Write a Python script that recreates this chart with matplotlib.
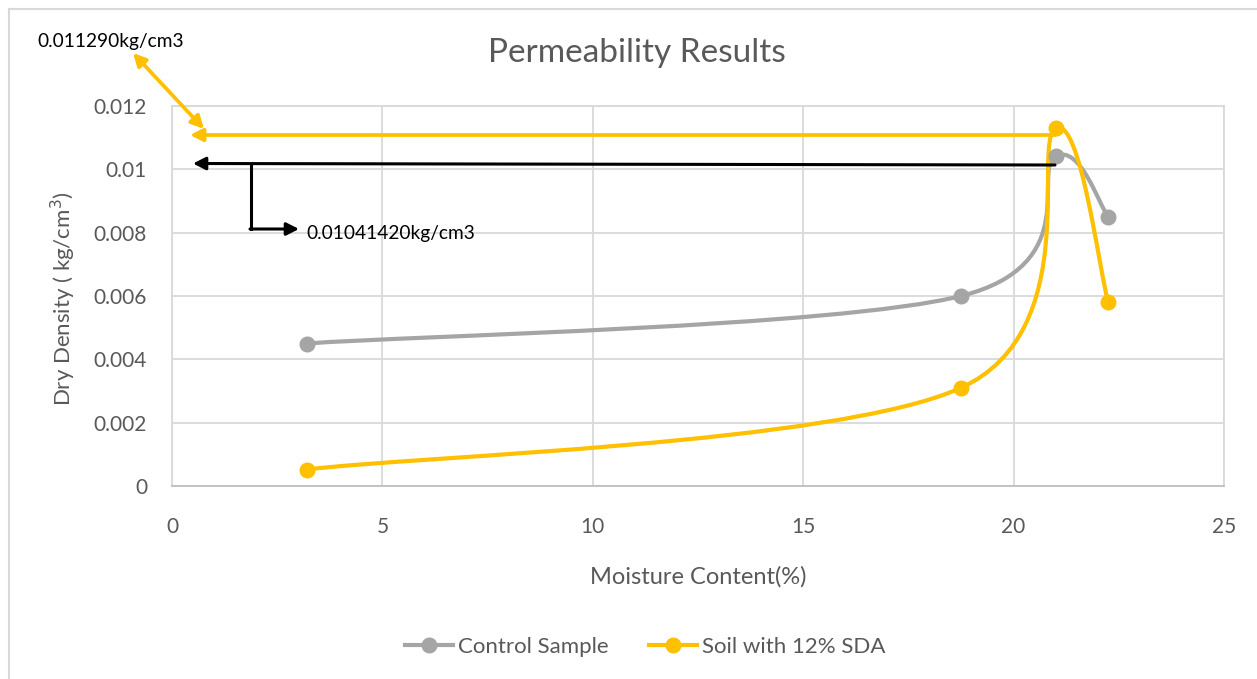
import numpy as np
import matplotlib.pyplot as plt
from matplotlib.path import Path
from matplotlib.patches import PathPatch
from matplotlib.lines import Line2D

plt.rcParams['font.family'] = ['Lato', 'DejaVu Sans']

# data
moisture = [3.2, 18.75, 21.0, 22.25]
control = [0.0045, 0.0060, 0.01041, 0.0085]
sda = [0.00052, 0.0031, 0.01129, 0.0058]
series_names = ['Control Sample', 'Soil with 12% SDA']
series_colors = ['#A5A5A5', '#FFC000']
x_ticks = [0, 5, 10, 15, 20, 25]
y_ticks = [0, 0.002, 0.004, 0.006, 0.008, 0.01, 0.012]
y_tick_labels = ['0', '0.002', '0.004', '0.006', '0.008', '0.01', '0.012']

TEXT = '#595959'
GRID = '#D9D9D9'


def smooth_path(xs, ys):
    # Excel-style smoothed line: cubic Bezier through the points
    pts = np.column_stack([xs, ys])
    n = len(pts)
    verts = [pts[0]]
    codes = [Path.MOVETO]
    for i in range(n - 1):
        p0 = pts[max(i - 1, 0)]
        p1 = pts[i]
        p2 = pts[i + 1]
        p3 = pts[min(i + 2, n - 1)]
        verts += [p1 + (p2 - p0) / 6, p2 - (p3 - p1) / 6, p2]
        codes += [Path.CURVE4] * 3
    return Path(verts, codes)


fig = plt.figure(figsize=(12.57, 6.79), dpi=100)
ax = fig.add_axes([172 / 1257, 1 - 486 / 679, 1052 / 1257, 380 / 679])

for ys, name, col in zip([control, sda], series_names, series_colors):
    ax.add_patch(PathPatch(smooth_path(moisture, ys), facecolor='none',
                           edgecolor=col, lw=3, zorder=3, capstyle='round'))
    ax.plot(moisture, ys, linestyle='none', marker='o', ms=10.5,
            color=col, zorder=4)

ax.set_xlim(0, 25)
ax.set_ylim(0, 0.012)
ax.set_xticks(x_ticks)
ax.set_yticks(y_ticks)
ax.set_yticklabels(y_tick_labels)
ax.grid(True, color=GRID, lw=1.3)
ax.set_axisbelow(True)
for s in ax.spines.values():
    s.set_color(GRID)
    s.set_linewidth(1.3)
ax.spines['bottom'].set_color('#BFBFBF')
ax.tick_params(length=0, labelsize=15, colors=TEXT)
ax.tick_params(axis='y', pad=18)
ax.tick_params(axis='x', pad=22)

fig.text(637 / 1257, 1 - 53 / 679, 'Permeability Results', ha='center',
         va='center', fontsize=24, color=TEXT)
fig.text(698 / 1257, 1 - 577 / 679, 'Moisture Content(%)', ha='center',
         va='center', fontsize=17, color=TEXT)
fig.text(63 / 1257, 1 - 299 / 679, 'Dry Density ( kg/cm$^3$)', ha='center',
         va='center', rotation=90, fontsize=16, color=TEXT)

# chart area border (left and top edges are inside the crop)
fig.add_artist(Line2D([8.5 / 1257, 8.5 / 1257], [0, 1 - 9 / 679],
                      transform=fig.transFigure, color=GRID, lw=1.5))
fig.add_artist(Line2D([8.5 / 1257, 1], [1 - 9 / 679, 1 - 9 / 679],
                      transform=fig.transFigure, color=GRID, lw=1.5))

# annotations drawn on the chart (figure pixel positions)
W, H = 1257, 679


def px(x, y):
    return (x / W, 1 - y / H)


head = '-|>,head_length=0.75,head_width=0.38'
orange = '#FFC000'
ax.annotate('', xy=px(190, 135), xytext=px(1055, 135), xycoords='figure fraction',
            textcoords='figure fraction',
            arrowprops=dict(arrowstyle=head, color=orange, lw=2.7,
                            shrinkA=0, shrinkB=0), annotation_clip=False, zorder=5)
ax.annotate('', xy=px(133, 53), xytext=px(204, 129), xycoords='figure fraction',
            textcoords='figure fraction',
            arrowprops=dict(arrowstyle='<|-|>,head_length=0.75,head_width=0.38',
                            color=orange, lw=2.7, shrinkA=0, shrinkB=0),
            annotation_clip=False, zorder=5)
ax.annotate('', xy=px(193, 163.5), xytext=px(1055, 165), xycoords='figure fraction',
            textcoords='figure fraction',
            arrowprops=dict(arrowstyle=head, color='black', lw=2.2,
                            shrinkA=0, shrinkB=0), annotation_clip=False, zorder=5)
fig.add_artist(Line2D([251 / W, 251 / W], [1 - 164 / H, 1 - 229 / H],
                      transform=fig.transFigure, color='black', lw=2.2))
ax.annotate('', xy=px(299, 229), xytext=px(250, 229), xycoords='figure fraction',
            textcoords='figure fraction',
            arrowprops=dict(arrowstyle=head, color='black', lw=2.2,
                            shrinkA=0, shrinkB=0), annotation_clip=False, zorder=5)
fig.text(37 / W, 1 - 41 / H, '0.011290kg/cm3', ha='left', va='center',
         fontsize=13.8, color='black')
fig.text(306 / W, 1 - 233 / H, '0.01041420kg/cm3', ha='left', va='center',
         fontsize=13.8, color='black')

handles = [Line2D([], [], color=c, lw=3, marker='o', ms=10.5) for c in series_colors]
fig.legend(handles, series_names, loc='center', bbox_to_anchor=(645 / W, 1 - 647 / H),
           ncol=2, frameon=False, fontsize=16, labelcolor=TEXT, handlelength=2.2,
           handletextpad=0.2, columnspacing=1.8)

fig.savefig('out.png', dpi=100)
